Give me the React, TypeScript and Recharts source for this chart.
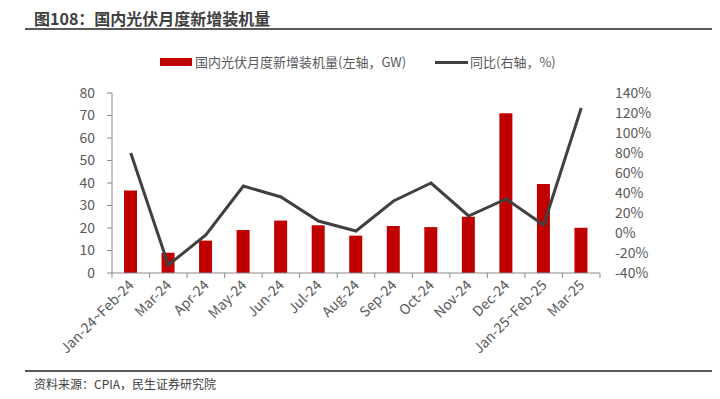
import React from 'react';
import {
  ComposedChart,
  Bar,
  Line,
  XAxis,
  YAxis,
} from 'recharts';

// categories and values
const months = [
  'Jan-24~Feb-24', 'Mar-24', 'Apr-24', 'May-24', 'Jun-24', 'Jul-24', 'Aug-24',
  'Sep-24', 'Oct-24', 'Nov-24', 'Dec-24', 'Jan-25~Feb-25', 'Mar-25',
];
const installs = [36.7, 9.0, 14.4, 19.1, 23.3, 21.2, 16.6, 20.9, 20.4, 25.0, 71.0, 39.6, 20.1];
const yoy = [80, -32, -2, 47, 36, 12, 2, 32, 50, 17, 34, 8, 125];

const leftTicks = [0, 10, 20, 30, 40, 50, 60, 70, 80];
const rightTicks = [-40, -20, 0, 20, 40, 60, 80, 100, 120, 140];

const data = months.map((m, i) => ({ name: m, installs: installs[i], yoy: yoy[i] }));

const FONT = '"Microsoft YaHei", "Noto Sans CJK SC", sans-serif';
const TEXT = '#595959';
const AXIS = '#898989';
const RED = '#C00000';
const LINE = '#404040';

// x tick: rotated label at the band centre, tick mark at the band's left edge
const MonthTick = (props: any) => {
  const { x, y, payload, index, visibleTicksCount } = props;
  const half = payload && payload.offset ? payload.offset : 18.75;
  const top = y - 8; // axis line (tickSize 6 + tickMargin 2)
  return (
    <g>
      <line x1={x - half} x2={x - half} y1={top} y2={top + 5} stroke={AXIS} />
      {index === visibleTicksCount - 1 && (
        <line x1={x + half} x2={x + half} y1={top} y2={top + 5} stroke={AXIS} />
      )}
      <text
        x={x + 4}
        y={top + 13}
        transform={`rotate(-45, ${x + 4}, ${top + 13})`}
        textAnchor="end"
        fill={TEXT}
        fontSize={14}
        fontFamily={FONT}
      >
        {payload.value}
      </text>
    </g>
  );
};

export default function App() {
  return (
    <div
      style={{
        position: 'absolute',
        left: 0,
        top: 0,
        width: 720,
        height: 399,
        background: '#fff',
        fontFamily: FONT,
        overflow: 'hidden',
      }}
    >
      {/* Title */}
      <div
        style={{
          position: 'absolute',
          left: 34,
          top: 8,
          fontSize: 16,
          fontWeight: 700,
          color: '#404040',
          lineHeight: '20px',
        }}
      >
        图108：国内光伏月度新增装机量
      </div>
      <div style={{ position: 'absolute', left: 25, top: 28, width: 687, height: 2, background: '#5a5a5a' }} />

      {/* Legend */}
      <div style={{ position: 'absolute', left: 160, top: 58, width: 32, height: 8, background: RED }} />
      <div style={{ position: 'absolute', left: 195, top: 53, fontSize: 13, color: TEXT, lineHeight: '18px' }}>
        国内光伏月度新增装机量(左轴，GW)
      </div>
      <div style={{ position: 'absolute', left: 435, top: 61, width: 33, height: 3, background: LINE }} />
      <div style={{ position: 'absolute', left: 470, top: 53, fontSize: 13, color: TEXT, lineHeight: '18px' }}>
        同比(右轴，%)
      </div>

      <div style={{ position: 'absolute', left: 0, top: 0 }}>
        <ComposedChart
          width={720}
          height={399}
          data={data}
          margin={{ top: 93, right: 0, bottom: 0, left: 0 }}
        >
          <XAxis
            dataKey="name"
            xAxisId="x"
            interval={0}
            stroke={AXIS}
            tickLine={false}
            tick={<MonthTick />}
            height={126}
          />
          <YAxis
            yAxisId="left"
            width={112}
            domain={[0, 80]}
            ticks={leftTicks}
            interval={0}
            stroke={AXIS}
            tickSize={5}
            tickMargin={12}
            tick={{ fill: TEXT, fontSize: 14, fontFamily: FONT }}
          />
          <YAxis
            yAxisId="right"
            orientation="right"
            width={120}
            domain={[-40, 140]}
            ticks={rightTicks}
            interval={0}
            axisLine={false}
            tickLine={false}
            tickFormatter={(v: number) => `${v}%`}
            tick={{ fill: TEXT, fontSize: 14, fontFamily: FONT, textAnchor: 'start', dx: 7 }}
          />
          <Bar
            xAxisId="x"
            yAxisId="left"
            dataKey="installs"
            fill={RED}
            barSize={13}
            isAnimationActive={false}
          />
          <Line
            xAxisId="x"
            yAxisId="right"
            dataKey="yoy"
            stroke={LINE}
            strokeWidth={3}
            dot={false}
            isAnimationActive={false}
          />
        </ComposedChart>
      </div>

      {/* Source */}
      <div style={{ position: 'absolute', left: 25, top: 370, width: 687, height: 2, background: '#5a5a5a' }} />
      <div style={{ position: 'absolute', left: 34, top: 375, fontSize: 12, color: '#404040', lineHeight: '17px' }}>
        资料来源：CPIA，民生证券研究院
      </div>
    </div>
  );
}
